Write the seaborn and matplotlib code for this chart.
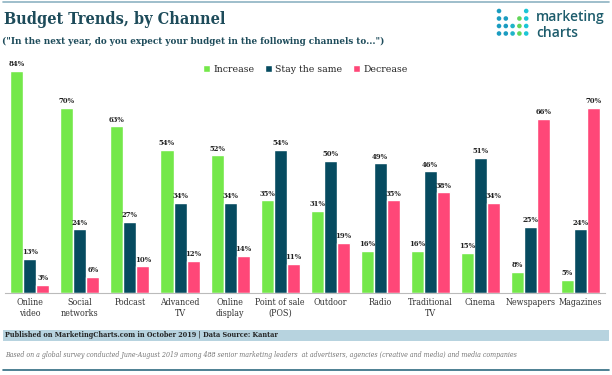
import matplotlib
matplotlib.use("Agg")
import matplotlib.pyplot as plt
import matplotlib.patches as mpatches
import seaborn as sns
import pandas as pd

channels = ["Online\nvideo", "Social\nnetworks", "Podcast", "Advanced\nTV", "Online\ndisplay",
            "Point of sale\n(POS)", "Outdoor", "Radio", "Traditional\nTV", "Cinema",
            "Newspapers", "Magazines"]
increase = [84, 70, 63, 54, 52, 35, 31, 16, 16, 15, 8, 5]
stay_same = [13, 24, 27, 34, 34, 54, 50, 49, 46, 51, 25, 24]
decrease = [3, 6, 10, 12, 14, 11, 19, 35, 38, 34, 66, 70]
answers = ["Increase", "Stay the same", "Decrease"]

GREEN = "#74e84a"
TEAL = "#064b60"
PINK = "#ff4778"
TITLE = "#1d4b5a"

df = pd.DataFrame({"channel": channels * 3,
                   "answer": [a for a in answers for _ in channels],
                   "pct": increase + stay_same + decrease})

sns.set_theme(style="white")
plt.rcParams['font.family'] = ['DejaVu Serif']
plt.rcParams['font.stretch'] = 'condensed'

fig = plt.figure(figsize=(6.12, 3.75), dpi=100)
ax = fig.add_axes([0.008, 0.219, 0.981, 0.62])
sns.barplot(data=df, x="channel", y="pct", hue="answer", hue_order=answers,
            palette=[GREEN, TEAL, PINK], width=0.78, ax=ax, saturation=1)

for cont in ax.containers:
    ax.bar_label(cont, fmt="%d%%", fontsize=5.5, fontweight="bold", padding=2, color="#222222")

ax.set_xlim(-0.5, 11.5)
ax.set_ylim(0, 88)
ax.set_yticks([])
ax.set_xlabel("")
ax.set_ylabel("")
for s in ["top", "right", "left"]:
    ax.spines[s].set_visible(False)
ax.spines["bottom"].set_color("#bbbbbb")
ax.spines["bottom"].set_linewidth(0.8)
ax.tick_params(axis="x", length=0, pad=4, labelsize=6.4, colors="#333333")

leg = ax.legend(loc="center", bbox_to_anchor=(0.5, 0.96), ncol=3, frameon=False,
                fontsize=7.5, handlelength=0.7, handleheight=0.7, handletextpad=0.3,
                columnspacing=1.0)

# header
fig.add_artist(plt.Line2D([0.005, 0.995], [0.995, 0.995], color="#8db3c2", lw=1.2))
fig.text(0.006, 0.947, "Budget Trends, by Channel", fontsize=11.6, fontweight="bold",
         color=TITLE, va="center")
fig.text(0.004, 0.89, "(\"In the next year, do you expect your budget in the following channels to...\")",
         fontsize=7, fontweight="bold", color=TITLE, va="center")

# logo
dot_cols = ["#1b9cc0", "#1b9cc0", "#1fb4c8", "#62d65a", "#1cc6d6"]
dot_rows = [[0, 4], [0, 1, 3, 4], [0, 1, 2, 3, 4], [0, 1, 2, 3, 4]]
for r, cols in enumerate(dot_rows):
    for c in cols:
        fig.add_artist(mpatches.Ellipse(((499 + c * 6.8) / 612, 1 - (11 + r * 7.5) / 375),
                                        4.6 / 612, 4.6 / 375, transform=fig.transFigure,
                                        color=dot_cols[c], lw=0))
fig.text(0.876, 0.955, "marketing", fontsize=10, color="#1d5c6c", family="Open Sans",
         fontweight="semibold", va="center", stretch="normal")
fig.text(0.876, 0.912, "charts", fontsize=10, color="#1d5c6c", family="Open Sans",
         fontweight="semibold", va="center", stretch="normal")

# footer
fig.add_artist(mpatches.Rectangle((0.005, 0.091), 0.99, 0.03, transform=fig.transFigure,
                                  color="#b7d3df", lw=0))
fig.text(0.008, 0.106, "Published on MarketingCharts.com in October 2019 | Data Source: Kantar",
         fontsize=5.2, fontweight="bold", color="#222222", va="center")
fig.text(0.008, 0.053, "Based on a global survey conducted June-August 2019 among 488 senior marketing leaders  at advertisers, agencies (creative and media) and media companies",
         fontsize=5.0, style="italic", color="#777777", va="center")
fig.add_artist(plt.Line2D([0.005, 0.995], [0.013, 0.013], color="#2f6b80", lw=1.2))

fig.savefig("out.png", dpi=100)
